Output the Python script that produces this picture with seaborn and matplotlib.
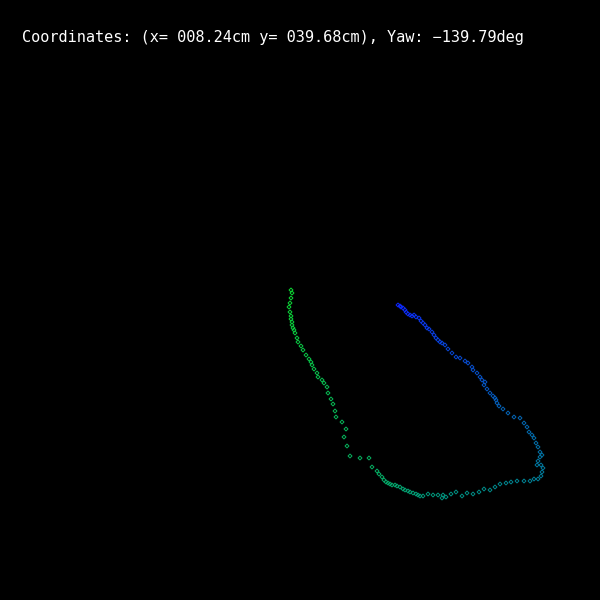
import matplotlib

matplotlib.use("Agg")

import matplotlib.pyplot as plt
import numpy as np
import pandas as pd
import seaborn as sns
from matplotlib.colors import LinearSegmentedColormap

# trajectory samples in screen units (0..600, y grows downward), start -> end
path_x = [398, 400, 401, 403, 405, 406, 408, 410, 412, 414, 416, 419, 421, 423, 425,
          427, 429, 432, 434, 436, 438, 440, 442, 445, 448, 452, 456, 460, 465, 468,
          472, 473, 477, 480, 482, 485, 484, 487, 490, 493, 495, 496, 497, 499, 503,
          508, 514, 520, 524, 527, 529, 532, 534, 536, 538, 540, 542, 540, 538, 537,
          541, 543, 542, 541, 538, 534, 530, 524, 517, 511, 506, 500, 495, 490, 484,
          479, 473, 467, 462, 456, 451, 446, 442, 443, 438, 433, 428, 423, 420, 418,
          416, 413, 410, 408, 405, 403, 400, 397, 395, 392, 390, 388, 386, 384, 382,
          379, 377, 372, 369, 360, 350, 347, 344, 346, 342, 336, 335, 333, 331, 328,
          327, 324, 322, 318, 317, 314, 312, 311, 309, 306, 303, 301, 298, 297, 295,
          294, 293, 292, 292, 291, 291, 290, 289, 290, 291, 292, 291]
path_y = [305, 306, 307, 308, 310, 312, 314, 315, 316, 315, 317, 318, 321, 323, 325,
          328, 329, 332, 335, 338, 340, 342, 343, 345, 349, 353, 357, 358, 361, 363,
          367, 370, 373, 377, 380, 382, 385, 389, 393, 396, 398, 400, 403, 406, 409,
          413, 417, 418, 423, 427, 432, 435, 438, 443, 447, 452, 455, 457, 461, 465,
          465, 468, 472, 476, 479, 479, 481, 481, 481, 482, 483, 484, 487, 490, 489,
          492, 494, 493, 496, 492, 494, 497, 498, 495, 495, 495, 494, 496, 496, 495,
          494, 493, 492, 491, 490, 489, 487, 486, 485, 485, 484, 483, 482, 480, 477,
          474, 471, 467, 458, 458, 456, 446, 437, 429, 422, 417, 411, 404, 399, 393,
          387, 383, 380, 377, 373, 369, 365, 362, 359, 355, 350, 346, 342, 338, 333,
          330, 328, 325, 322, 319, 316, 312, 307, 303, 298, 293, 290]

x_cm = 8.24
y_cm = 39.68
yaw_deg = -139.79

df = pd.DataFrame({"x": path_x, "y": path_y})
df["t"] = np.arange(len(df))

cmap = LinearSegmentedColormap.from_list("trail", [(0.05, 0.15, 1.0), (0.0, 0.55, 0.55), (0.05, 0.85, 0.2)])

fig = plt.figure(figsize=(6, 6), dpi=100, facecolor="black")
ax = fig.add_axes([0, 0, 1, 1])
ax.set_facecolor("black")

sns.scatterplot(data=df, x="x", y="y", hue="t", palette=cmap, legend=False,
                marker="D", s=4, linewidth=0.7, ax=ax)
# hollow diamonds: outline in the point colour
pts = ax.collections[0]
cols = pts.get_facecolors()
pts.set_edgecolors(cols)
pts.set_facecolors("none")

ax.set_xlim(0, 600)
ax.set_ylim(600, 0)
ax.set_axis_off()

label = f"Coordinates: (x= {x_cm:06.2f}cm y= {y_cm:06.2f}cm), Yaw: {yaw_deg:.2f}deg".replace("-", "\u2212")
fig.text(22 / 600, 1 - 42 / 600, label, color="white", fontsize=11,
         family="DejaVu Sans Mono", ha="left", va="baseline")

fig.savefig("out.png", dpi=100, facecolor="black")
